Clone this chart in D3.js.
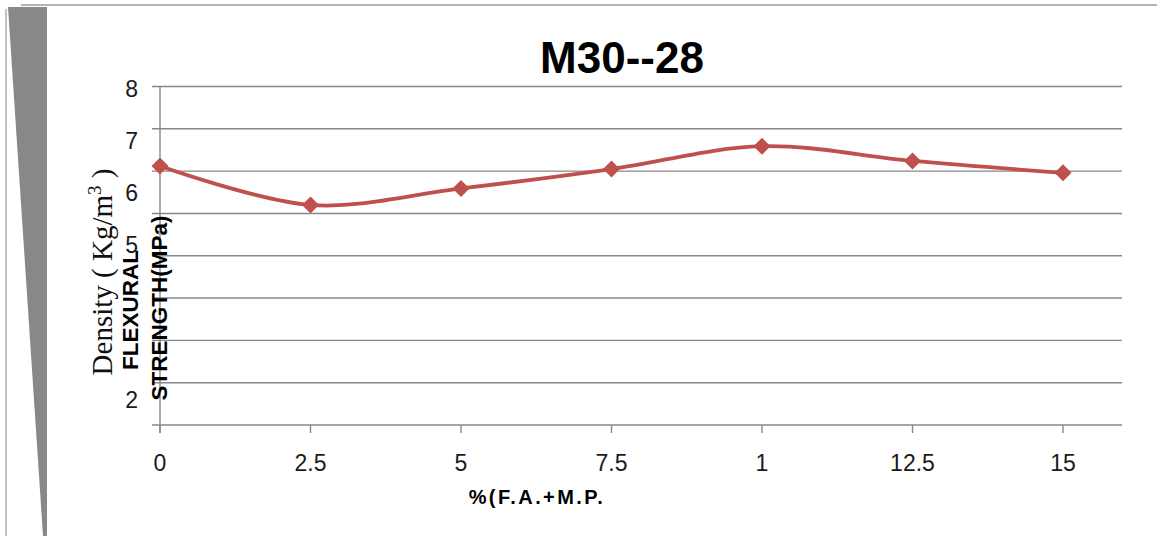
<!DOCTYPE html>
<html>
<head>
<meta charset="utf-8">
<script src="https://cdn.jsdelivr.net/npm/d3@7"></script>
<style>
  body { margin: 0; background: #fff; }
  svg { display: block; }
</style>
</head>
<body>
<div id="chart"></div>
<script>
// chart data
var xLabels = ["0", "2.5", "5", "7.5", "1", "12.5", "15"];
var strength = [6.12, 5.20, 5.59, 6.05, 6.59, 6.24, 5.96];
var gridValues = [0, 1, 2, 3, 4, 5, 6, 7, 8];
// tick labels that show through the axis titles
var yTickLabels = [8, 7, 6, 5, 2];
var title = "M30--28";
var xTitle = "%(F.A.+M.P.";
var yTitleBack = "Density ( Kg/m";
var yTitleLines = ["FLEXURAL", "STRENGTH(MPa)"];

var width = 1157, height = 536;
var plot = {left: 160, right: 1122, top: 86.5, bottom: 425};

var svg = d3.select("#chart").append("svg")
    .attr("width", width)
    .attr("height", height);

// page decoration on the left edge
svg.append("path")
    .attr("d", "M8,7 L47,7 L47," + height + " L43," + height + " Z")
    .attr("fill", "#888");
svg.append("line")
    .attr("x1", 6).attr("x2", 6)
    .attr("y1", 9).attr("y2", height)
    .attr("stroke", "#999").attr("stroke-width", 1.2);
svg.append("line")
    .attr("x1", 21).attr("x2", width)
    .attr("y1", 5).attr("y2", 5)
    .attr("stroke", "#999").attr("stroke-width", 1.5);

var x = d3.scalePoint()
    .domain(xLabels)
    .range([160, 1063]);

var y = d3.scaleLinear()
    .domain([0, 8])
    .range([plot.bottom, plot.top]);

// the printed labels sit on a slightly different spacing than the grid
var yLab = d3.scaleLinear()
    .domain([2, 8])
    .range([400, 89]);

// gridlines
svg.append("g")
    .selectAll("line")
    .data(gridValues)
  .enter().append("line")
    .attr("x1", plot.left - 8)
    .attr("x2", plot.right)
    .attr("y1", function(d) { return y(d); })
    .attr("y2", function(d) { return y(d); })
    .attr("stroke", "#888")
    .attr("stroke-width", 1.4);

// y axis line
svg.append("line")
    .attr("x1", plot.left).attr("x2", plot.left)
    .attr("y1", plot.top).attr("y2", plot.bottom + 8)
    .attr("stroke", "#888").attr("stroke-width", 1.4);

// x ticks
svg.append("g")
    .selectAll("line")
    .data(xLabels)
  .enter().append("line")
    .attr("x1", function(d) { return x(d); })
    .attr("x2", function(d) { return x(d); })
    .attr("y1", plot.bottom)
    .attr("y2", plot.bottom + 8)
    .attr("stroke", "#888")
    .attr("stroke-width", 1.4);

// x tick labels
svg.append("g")
    .selectAll("text")
    .data(xLabels)
  .enter().append("text")
    .attr("x", function(d) { return x(d); })
    .attr("y", 471)
    .attr("text-anchor", "middle")
    .style("font-family", "'Liberation Sans', Arial, sans-serif")
    .style("font-size", "23px")
    .style("fill", "#1a1a1a")
    .text(function(d) { return d; });

// y tick labels
svg.append("g")
    .selectAll("text")
    .data(yTickLabels)
  .enter().append("text")
    .attr("x", 138)
    .attr("y", function(d) { return yLab(d); })
    .attr("dy", ".36em")
    .attr("text-anchor", "end")
    .style("font-family", "'Liberation Sans', Arial, sans-serif")
    .style("font-size", "23px")
    .style("fill", "#1a1a1a")
    .text(function(d) { return d; });

// title
svg.append("text")
    .attr("x", 622)
    .attr("y", 73)
    .attr("text-anchor", "middle")
    .style("font-family", "'Liberation Sans', Arial, sans-serif")
    .style("font-weight", "bold")
    .style("font-size", "44px")
    .style("fill", "#000")
    .text(title);

// x axis title
svg.append("text")
    .attr("x", 537)
    .attr("y", 504)
    .attr("text-anchor", "middle")
    .style("font-family", "'Liberation Sans', Arial, sans-serif")
    .style("font-weight", "bold")
    .style("font-size", "20px")
    .style("letter-spacing", "2.4px")
    .style("fill", "#000")
    .text(xTitle);

// serif title left behind underneath
var back = svg.append("text")
    .attr("transform", "translate(112,272) rotate(-90)")
    .attr("text-anchor", "middle")
    .style("font-family", "'Liberation Serif', 'Times New Roman', serif")
    .style("font-size", "29px")
    .style("fill", "#111");
back.append("tspan").text(yTitleBack);
back.append("tspan").attr("dy", -11).style("font-size", "19px").text("3");
back.append("tspan").attr("dy", 11).text(" )");

// bold two line y title
svg.append("g")
    .selectAll("text")
    .data(yTitleLines)
  .enter().append("text")
    .attr("transform", function(d, i) {
      return "translate(" + (138 + i * 29) + "," + (310 - i * 2) + ") rotate(-90)";
    })
    .attr("text-anchor", "middle")
    .style("font-family", "'Liberation Sans', Arial, sans-serif")
    .style("font-weight", "bold")
    .style("font-size", "22.5px")
    .style("fill", "#000")
    .text(function(d) { return d; });

// series line
var line = d3.line()
    .x(function(d, i) { return x(xLabels[i]); })
    .y(function(d) { return y(d); })
    .curve(d3.curveCatmullRom);

svg.append("path")
    .datum(strength)
    .attr("d", line)
    .attr("fill", "none")
    .attr("stroke", "#C0504D")
    .attr("stroke-width", 3.8)
    .attr("stroke-linejoin", "round");

svg.append("g")
    .selectAll("path")
    .data(strength)
  .enter().append("path")
    .attr("d", d3.symbol().type(d3.symbolSquare).size(144))
    .attr("transform", function(d, i) {
      return "translate(" + x(xLabels[i]) + "," + y(d) + ") rotate(45)";
    })
    .attr("fill", "#C0504D");
</script>
</body>
</html>
